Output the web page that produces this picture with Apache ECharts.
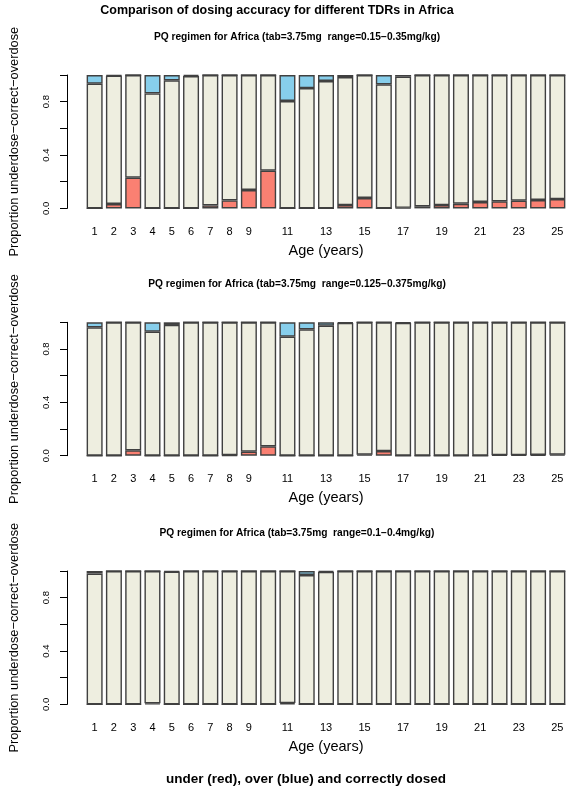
<!DOCTYPE html>
<html><head><meta charset="utf-8">
<script src="https://cdn.jsdelivr.net/npm/echarts@6/dist/echarts.min.js"></script>
<style>html,body{margin:0;padding:0;background:#fff}#c{width:567px;height:787px}</style>
</head><body><div id="c"></div>
<script>
const ages = ['1','2','3','4','5','6','7','8','9','10','11','12','13','14','15','16','17','18','19','20','21','22','23','24','25'];

const mainTitle = 'Comparison of dosing accuracy for different TDRs in Africa';
const panelTitles = [
  'PQ regimen for Africa (tab=3.75mg  range=0.15\u22120.35mg/kg)',
  'PQ regimen for Africa (tab=3.75mg  range=0.125\u22120.375mg/kg)',
  'PQ regimen for Africa (tab=3.75mg  range=0.1\u22120.4mg/kg)'
];
const bottomText = 'under (red), over (blue) and correctly dosed';
const xTitle = 'Age (years)';
const yTitle = 'Proportion underdose\u2212correct\u2212overdose';
const yTickLabels = ['0.0', '0.4', '0.8'];

// Panel 1: range 0.15-0.35
const under1 = [0, 0.033, 0.23, 0, 0, 0, 0.022, 0.06, 0.138, 0.283, 0, 0, 0, 0.025, 0.078, 0, 0.004, 0.015, 0.025, 0.035, 0.048, 0.053, 0.058, 0.063, 0.07];
const correct1 = [0.935, 0.962, 0.77, 0.862, 0.96, 0.992, 0.978, 0.94, 0.862, 0.717, 0.805, 0.902, 0.955, 0.96, 0.922, 0.93, 0.984, 0.985, 0.975, 0.965, 0.952, 0.947, 0.942, 0.937, 0.93];
const over1 = [0.065, 0.005, 0, 0.138, 0.04, 0.008, 0, 0, 0, 0, 0.195, 0.098, 0.045, 0.015, 0, 0.07, 0.012, 0, 0, 0, 0, 0, 0, 0, 0];

// Panel 2: range 0.125-0.375
const under2 = [0, 0, 0.04, 0, 0, 0, 0, 0.004, 0.03, 0.07, 0, 0, 0, 0, 0.008, 0.035, 0, 0, 0, 0, 0, 0.005, 0.005, 0.006, 0.008];
const correct2 = [0.962, 1, 0.96, 0.93, 0.98, 1, 1, 0.996, 0.97, 0.93, 0.892, 0.947, 0.975, 0.995, 0.992, 0.965, 0.995, 1, 1, 1, 1, 0.995, 0.995, 0.994, 0.992];
const over2 = [0.038, 0, 0, 0.07, 0.02, 0, 0, 0, 0, 0, 0.108, 0.053, 0.025, 0.005, 0, 0, 0.005, 0, 0, 0, 0, 0, 0, 0, 0];

// Panel 3: range 0.1-0.4
const under3 = [0, 0, 0, 0.008, 0, 0, 0, 0, 0, 0, 0.01, 0, 0, 0, 0, 0, 0, 0, 0, 0, 0, 0, 0, 0, 0];
const correct3 = [0.98, 1, 1, 0.992, 0.995, 1, 1, 1, 1, 1, 0.99, 0.97, 0.993, 1, 1, 1, 1, 1, 1, 1, 1, 1, 1, 1, 1];
const over3 = [0.02, 0, 0, 0, 0.005, 0, 0, 0, 0, 0, 0, 0.03, 0.007, 0, 0, 0, 0, 0, 0, 0, 0, 0, 0, 0, 0];

const panels = [
  {u: under1, c: correct1, o: over1},
  {u: under2, c: correct2, o: over2},
  {u: under3, c: correct3, o: over3}
];

const FONT = '"Liberation Sans", Arial, Helvetica, sans-serif';
const gridTops = [75, 322.3, 571];
const gridH = 133.4;
const subTitleTops = [32, 279.5, 528.5];
const RED = '#FA8072', BLUE = '#87CEEB', BEIGE = '#EEEEE0', EDGE = '#404040';

const grids = [], xAxes = [], yAxes = [], series = [];
const titles = [{
  text: mainTitle, left: 277, top: 4, textAlign: 'center', padding: 0,
  textStyle: {fontFamily: FONT, fontSize: 12.5, fontWeight: 'bold', color: '#000'}
}];

panels.forEach((p, i) => {
  grids.push({left: 80, width: 487, top: gridTops[i], height: gridH, containLabel: false});
  xAxes.push({
    type: 'category', gridIndex: i, data: ages,
    axisLine: {show: false}, axisTick: {show: false},
    axisLabel: {
      interval: (idx) => idx < 9 || idx % 2 === 0,
      margin: 18, fontSize: 11, fontFamily: FONT, color: '#000'
    },
    name: xTitle, nameLocation: 'middle', nameGap: 35,
    nameTextStyle: {fontSize: 14.5, fontFamily: FONT, color: '#000'}
  });
  yAxes.push({
    type: 'value', gridIndex: i, min: 0, max: 1, interval: 0.2, offset: 18,
    splitLine: {show: false},
    axisLine: {show: true, lineStyle: {color: '#000', width: 1}},
    axisTick: {show: true, length: 7, lineStyle: {color: '#000', width: 1}},
    axisLabel: {
      rotate: 90, margin: 16, fontSize: 9.5, fontFamily: FONT, color: '#000',
      formatter: (v) => {
        const s = v.toFixed(1);
        return yTickLabels.indexOf(s) >= 0 ? s : '';
      }
    },
    name: yTitle, nameLocation: 'middle', nameRotate: 90, nameGap: 46,
    nameTextStyle: {fontSize: 12.8, fontFamily: FONT, color: '#000'}
  });
  titles.push({
    text: panelTitles[i], left: 297, top: subTitleTops[i], textAlign: 'center', padding: 0,
    textStyle: {fontFamily: FONT, fontSize: 10.2, fontWeight: 'bold', color: '#000'}
  });
  const mk = (name, data, color) => ({
    name, type: 'bar', xAxisIndex: i, yAxisIndex: i, stack: 'p' + i, data,
    barCategoryGap: '17%',
    itemStyle: {color, borderColor: EDGE, borderWidth: 1.4},
    emphasis: {disabled: true}, animation: false
  });
  series.push(mk('under', p.u, RED), mk('correct', p.c, BEIGE), mk('over', p.o, BLUE));
});

titles.push({
  text: bottomText, left: 306, top: 772, textAlign: 'center', padding: 0,
  textStyle: {fontFamily: FONT, fontSize: 13.5, fontWeight: 'bold', color: '#000'}
});

const chart = echarts.init(document.getElementById('c'), null, {renderer: 'canvas'});
chart.setOption({
  backgroundColor: '#fff',
  animation: false,
  title: titles,
  grid: grids,
  xAxis: xAxes,
  yAxis: yAxes,
  series: series
});
</script>
</body></html>
